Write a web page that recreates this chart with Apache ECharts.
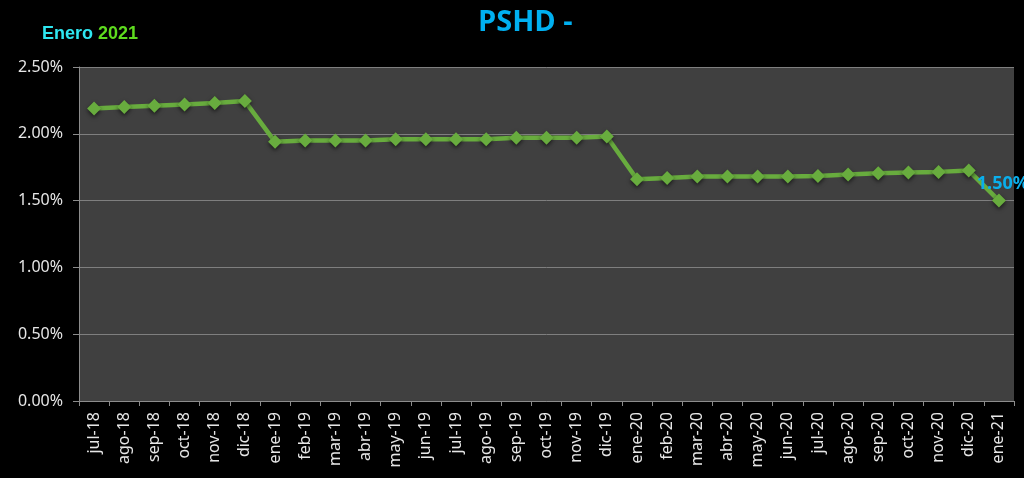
<!DOCTYPE html>
<html>
<head>
<meta charset="utf-8">
<script src="https://cdn.jsdelivr.net/npm/echarts@6/dist/echarts.min.js"></script>
<style>
html,body{margin:0;padding:0;background:#000;}
#c{width:1024px;height:478px;}
</style>
</head>
<body>
<div id="c"></div>
<script>
const categories = ['jul-18','ago-18','sep-18','oct-18','nov-18','dic-18','ene-19','feb-19','mar-19','abr-19','may-19','jun-19','jul-19','ago-19','sep-19','oct-19','nov-19','dic-19','ene-20','feb-20','mar-20','abr-20','may-20','jun-20','jul-20','ago-20','sep-20','oct-20','nov-20','dic-20','ene-21'];
const pshd = [2.19,2.20,2.21,2.22,2.23,2.245,1.94,1.95,1.95,1.95,1.96,1.96,1.96,1.96,1.97,1.97,1.97,1.98,1.66,1.67,1.68,1.68,1.68,1.68,1.685,1.695,1.705,1.71,1.715,1.725,1.50];
const yTicks = [0,0.5,1,1.5,2,2.5];

const chart = echarts.init(document.getElementById('c'));
const font = 'Noto Sans';
chart.setOption({
  backgroundColor:'#000',
  animation:false,
  title:[
    {text:'PSHD -', left:473, top:3, textStyle:{color:'#00B0F0', fontSize:29, fontWeight:'bold', fontFamily:'Open Sans'}},
    {text:'{a|Enero} {b|2021}', left:37, top:20, textStyle:{rich:{
      a:{color:'#2EE6F0', fontSize:18, fontWeight:'bold', fontFamily:'Liberation Sans'},
      b:{color:'#5EDB1E', fontSize:18, fontWeight:'bold', fontFamily:'Liberation Sans'}}}}
  ],
  grid:{left:79, right:10, top:67, bottom:77, show:true, backgroundColor:'#404040', borderWidth:0},
  xAxis:{type:'category', data:categories, boundaryGap:true,
    axisLine:{lineStyle:{color:'#8c8c8c', width:1}},
    axisTick:{show:true, length:5, lineStyle:{color:'#8c8c8c'}},
    axisLabel:{rotate:90, color:'#e6e6e6', fontSize:16, fontFamily:font, margin:11, interval:0}},
  yAxis:{type:'value', min:0, max:2.5, interval:0.5,
    axisLine:{show:true, lineStyle:{color:'#8c8c8c'}},
    axisTick:{show:true, length:6, lineStyle:{color:'#8c8c8c'}},
    splitLine:{lineStyle:{color:'#7f7f7f', width:1}},
    axisLabel:{color:'#e6e6e6', fontSize:16, fontFamily:font, margin:16,
      formatter:v=>v.toFixed(2)+'%'}},
  series:[{type:'line', data:pshd.map((v,i)=> i===pshd.length-1 ? {value:v, label:{show:true}} : v),
    symbol:'diamond', symbolSize:14,
    lineStyle:{color:'#68AC3E', width:4.5},
    itemStyle:{color:'#68AC3E', shadowColor:'rgba(0,0,0,0.6)', shadowBlur:4, shadowOffsetY:2},
    label:{show:false, position:'top', distance:1, offset:[4,0], color:'#0AAEEB', fontSize:18, fontWeight:'bold', fontFamily:font, formatter:p=>p.value.toFixed(2)+'%'}
  }]
});
</script>
</body>
</html>
